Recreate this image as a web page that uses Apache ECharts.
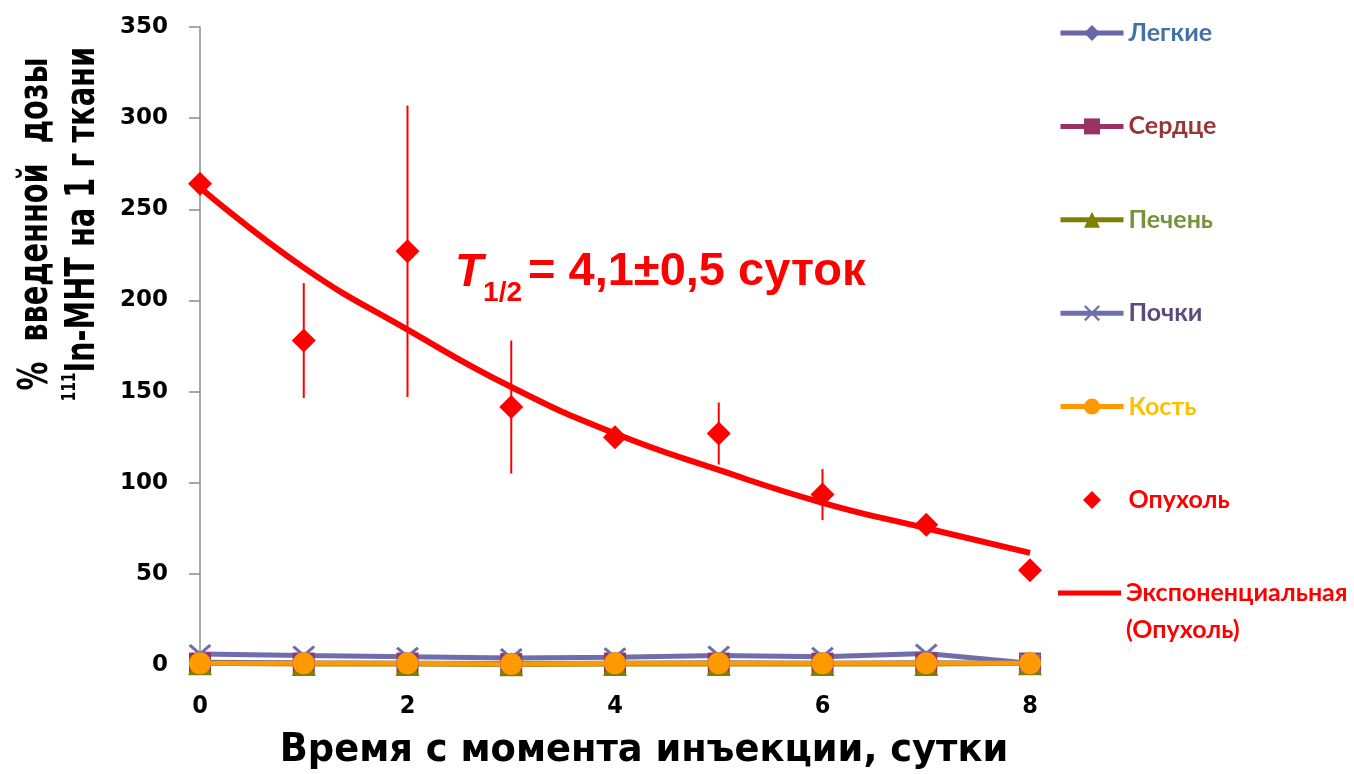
<!DOCTYPE html>
<html>
<head>
<meta charset="utf-8">
<script src="https://cdn.jsdelivr.net/npm/echarts@6/dist/echarts.min.js"></script>
<style>
  html, body { margin: 0; padding: 0; background: #fff; }
  #chart { width: 1354px; height: 774px; }
</style>
</head>
<body>
<div id="chart"></div>
<script>
// Days after injection
const days = [0, 1, 2, 3, 4, 5, 6, 7, 8];

// Organ uptake, % injected dose per gram
const lungs  = [1.5, 1.2, 1.0, 0.8, 1.0, 1.2, 1.0, 1.2, 0.8];
const heart  = [0.8, 0.8, 0.8, 0.5, 0.8, 0.8, 0.8, 0.8, 0.8];
const liver  = [1.0, 0.6, 0.6, 0.4, 0.6, 0.6, 0.6, 0.6, 1.0];
const kidney = [6.0, 5.2, 4.5, 3.8, 4.3, 5.2, 4.5, 6.3, 1.0];
const bone   = [1.0, 1.0, 1.0, 0.6, 1.0, 1.0, 1.0, 1.0, 1.0];

// Tumour uptake with standard deviation
const tumor    = [264, 178, 227, 141.5, 125, 127, 93.5, 77, 52];
const tumorErr = [0, 31.5, 80, 36.5, 0, 17, 14, 0, 0];

// Exponential trend through the tumour points
const tumorFit = [262, 218, 184, 152.5, 127, 107, 89, 75, 61.5];

const yTicks = { min: 0, max: 350, step: 50 };
const xTicks = { min: 0, max: 8, step: 2 };

const narrow = "'Liberation Sans Narrow', 'DejaVu Sans Condensed', 'Liberation Sans', sans-serif";
const arial = "'Liberation Sans', Arial, sans-serif";
const legendFont = "Lato, 'Open Sans', sans-serif";

const pairs = arr => days.map((d, i) => [d, arr[i]]);

const errData = days
  .map((d, i) => [d, tumor[i] - tumorErr[i], tumor[i] + tumorErr[i]])
  .filter((r, i) => tumorErr[i] > 0);

const xSymbol = 'path://M0,1L1,0L5,4L9,0L10,1L6,5L10,9L9,10L5,6L1,10L0,9L4,5Z';
// diamond centred in a wide legend box (end points keep the box width)
const legendDiamond = 'path://M0,10L0,10M31.5,1L40.5,10L31.5,19L22.5,10ZM63,10L63,10';

const chart = echarts.init(document.getElementById('chart'), null, { renderer: 'canvas' });

const legendText = {
  fontFamily: legendFont,
  fontWeight: 'bold',
  fontSize: 25,
  lineHeight: 37
};

chart.setOption({
  animation: false,
  backgroundColor: '#ffffff',
  grid: { left: 200, right: 324, top: 27, bottom: 109, containLabel: false },
  xAxis: {
    type: 'value',
    min: xTicks.min,
    max: xTicks.max,
    interval: xTicks.step,
    axisLine: { show: true, lineStyle: { color: '#8c8c8c', width: 1.5 } },
    axisTick: { show: false },
    splitLine: { show: false },
    axisLabel: {
      margin: 29,
      color: '#000',
      fontFamily: narrow,
      fontWeight: 'bold',
      fontSize: 25
    }
  },
  yAxis: {
    type: 'value',
    min: yTicks.min,
    max: yTicks.max,
    interval: yTicks.step,
    axisLine: { show: true, lineStyle: { color: '#8c8c8c', width: 1.5 } },
    axisTick: { show: true, inside: false, length: 11, lineStyle: { color: '#8c8c8c', width: 1.5 } },
    splitLine: { show: false },
    axisLabel: {
      margin: 32,
      color: '#000',
      fontFamily: "'DejaVu Sans', sans-serif",
      fontWeight: 'bold',
      fontSize: 23
    }
  },
  legend: [
    {
      orient: 'vertical',
      left: 1058,
      top: 14.5,
      padding: 0,
      itemWidth: 63,
      itemHeight: 20,
      itemGap: 56.4,
      selectedMode: false,
      lineStyle: { width: 5 },
      textStyle: legendText,
      data: [
        { name: 'Легкие', textStyle: { color: '#4470A8' } },
        { name: 'Сердце', textStyle: { color: '#953735' } },
        { name: 'Печень', textStyle: { color: '#77933C' } },
        { name: 'Почки', textStyle: { color: '#5F497A' } },
        { name: 'Кость', textStyle: { color: '#FFC000' } },
        { name: 'Опухоль', textStyle: { color: '#FF0000' }, icon: legendDiamond }
      ]
    },
    {
      orient: 'vertical',
      left: 1058,
      top: 537.5,
      padding: 0,
      itemWidth: 63,
      itemHeight: 5,
      selectedMode: false,
      textStyle: Object.assign({}, legendText, { color: '#FF0000' }),
      // a leading empty line keeps the first text line level with the icon
      formatter: name => '\n' + name.replace(' ', '\n'),
      data: [{ name: 'Экспоненциальная (Опухоль)', icon: 'rect' }]
    }
  ],
  graphic: [
    {
      type: 'text',
      x: 60.5,
      y: 224,
      rotation: Math.PI / 2,
      scaleX: 0.8,
      style: {
        text: '{a|%  введенной  дозы}\n{s|111}{a|In-МНТ на 1 г ткани}',
        align: 'center',
        verticalAlign: 'middle',
        fill: '#000',
        rich: {
          a: { fontFamily: narrow, fontWeight: 'bold', fontSize: 40, lineHeight: 47 },
          s: { fontFamily: narrow, fontWeight: 'bold', fontSize: 19, lineHeight: 19, verticalAlign: 'top' }
        }
      }
    },
    {
      type: 'text',
      x: 644,
      y: 751,
      scaleX: 1.05,
      style: {
        text: 'Время с момента инъекции, сутки',
        align: 'center',
        verticalAlign: 'middle',
        fill: '#000',
        font: 'bold 39px ' + narrow
      }
    },
    {
      type: 'text',
      x: 455,
      y: 261,
      style: {
        text: '{t|T}{s|1/2}{r|= 4,1±0,5 суток}',
        align: 'left',
        verticalAlign: 'top',
        fill: '#FF0000',
        rich: {
          t: { fontFamily: arial, fontWeight: 'bold', fontStyle: 'italic', fontSize: 46, lineHeight: 46, padding: [0, 0, 11, 0], verticalAlign: 'bottom' },
          s: { fontFamily: arial, fontWeight: 'bold', fontSize: 28, lineHeight: 28, verticalAlign: 'bottom' },
          r: { fontFamily: arial, fontWeight: 'bold', fontSize: 47, lineHeight: 46, padding: [0, 0, 11, 6], verticalAlign: 'bottom' }
        }
      }
    }
  ],
  series: [
    {
      name: 'Легкие', type: 'line', data: pairs(lungs),
      symbol: 'diamond', symbolSize: 22,
      lineStyle: { color: '#6666A8', width: 5 }, itemStyle: { color: '#6666A8' }
    },
    {
      name: 'Сердце', type: 'line', data: pairs(heart),
      symbol: 'rect', symbolSize: 22,
      lineStyle: { color: '#993366', width: 5 }, itemStyle: { color: '#993366' }
    },
    {
      name: 'Печень', type: 'line', data: pairs(liver),
      symbol: 'triangle', symbolSize: 24,
      lineStyle: { color: '#808000', width: 5 }, itemStyle: { color: '#808000' }
    },
    {
      name: 'Почки', type: 'line', data: pairs(kidney),
      symbol: xSymbol, symbolSize: [23, 20],
      lineStyle: { color: '#6E6EAA', width: 5 }, itemStyle: { color: '#6E6EAA' }
    },
    {
      name: 'Кость', type: 'line', data: pairs(bone),
      symbol: 'circle', symbolSize: 22,
      lineStyle: { color: '#FF9900', width: 5 }, itemStyle: { color: '#FF9900' }
    },
    {
      type: 'custom',
      data: errData,
      z: 3,
      renderItem: (params, api) => {
        const lo = api.coord([api.value(0), api.value(1)]);
        const hi = api.coord([api.value(0), api.value(2)]);
        return {
          type: 'line',
          shape: { x1: lo[0], y1: lo[1], x2: hi[0], y2: hi[1] },
          style: { stroke: '#FF0000', lineWidth: 2 }
        };
      }
    },
    {
      name: 'Опухоль', type: 'scatter', data: pairs(tumor),
      symbol: 'diamond', symbolSize: 24, z: 4,
      itemStyle: { color: '#FF0000', opacity: 1 }
    },
    {
      name: 'Экспоненциальная (Опухоль)', type: 'line', data: pairs(tumorFit),
      smooth: true, symbol: 'none', showSymbol: false, z: 5,
      lineStyle: { color: '#FF0000', width: 6 }, itemStyle: { color: '#FF0000' }
    }
  ]
});
</script>
</body>
</html>
